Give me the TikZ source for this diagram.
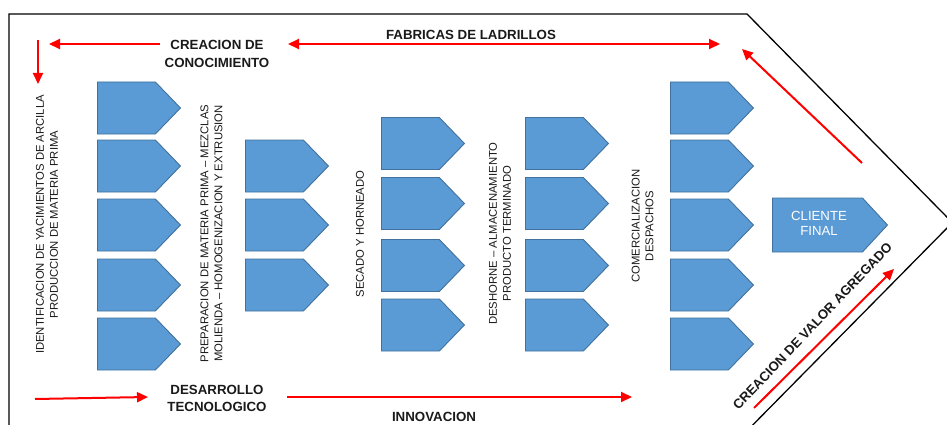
\documentclass[tikz,border=0pt]{standalone}
\usepackage{fontspec}
\setmainfont{Liberation Sans}
\usetikzlibrary{shapes.symbols,arrows.meta}
\definecolor{boxfill}{HTML}{5B9BD5}
\definecolor{boxline}{HTML}{41719C}
\definecolor{arrred}{HTML}{FF0000}
\definecolor{txt}{HTML}{1A1A1A}
\tikzset{
  blk/.style={shape=signal, signal to=east, signal pointer angle=92, fill=boxfill, draw=boxline,
    line width=0.9pt, minimum width=83pt, minimum height=52pt, inner sep=0pt, anchor=west},
  redarr/.style={draw=arrred, line width=2pt, -{Triangle[length=11pt,width=10pt]}},
  redboth/.style={draw=arrred, line width=2pt, {Triangle[length=11pt,width=10pt]}-{Triangle[length=11pt,width=10pt]}},
  lblb/.style={font=\fontsize{13.3}{17.5}\selectfont\bfseries, text=txt, align=center, inner sep=0pt},
  lblv/.style={font=\fontsize{11.3}{13.8}\selectfont, text=txt, align=center, rotate=90, inner sep=0pt},
  framel/.style={draw=black, line width=1.3pt},
}
\begin{document}
\begin{tikzpicture}[x=1pt,y=-1pt]
\useasboundingbox (0,0) rectangle (947,425);
\fill[white] (0,0) rectangle (947,425);
% frame
\draw[framel] (9,445) -- (9,14) -- (747,14) -- (952.4,222.6) -- (733,445);
% columns 1 and 5
\foreach \r/\y in {1/108,2/166,3/225,4/285,5/344} {
  \node[blk] (c1r\r) at (97,\y) {};
  \node[blk] (c5r\r) at (670,\y) {};
}
% column 2
\foreach \r/\y in {1/166,2/225,3/285} {
  \node[blk] (c2r\r) at (245,\y) {};
}
% columns 3 and 4
\foreach \r/\y in {1/143.5,2/203.5,3/265.5,4/325} {
  \node[blk] (c3r\r) at (381,\y) {};
  \node[blk] (c4r\r) at (525,\y) {};
}
% cliente final
\node[blk, minimum width=115pt, minimum height=54pt, signal pointer angle=94.4] (cli) at (772,225) {};
\node[font=\fontsize{13.2}{15.5}\selectfont, text=white, align=center, inner sep=0pt] (clit) at (819,223.5) {CLIENTE\\FINAL};
% vertical labels
\node[lblv] (t1) at (47,224.5) {IDENTIFICACION DE YACIMIENTOS DE ARCILLA\\PRODUCCION DE MATERIA PRIMA};
\node[lblv] (t2) at (211.5,233.5) {PREPARACION DE MATERIA PRIMA -- MEZCLAS\\MOLIENDA -- HOMOGENIZACION Y EXTRUSION};
\node[lblv] (t3) at (360,234) {SECADO Y HORNEADO};
\node[lblv] (t4) at (500,233.5) {DESHORNE -- ALMACENAMIENTO\\PRODUCTO TERMINADO};
\node[lblv] (t5) at (642.5,226) {COMERCIALIZACION\\DESPACHOS};
% bold labels
\node[lblb] (cc) at (217,54) {CREACION DE\\CONOCIMIENTO};
\node[lblb] (fab) at (471,35) {FABRICAS DE LADRILLOS};
\node[lblb] (dt) at (217,398.5) {DESARROLLO\\TECNOLOGICO};
\node[lblb] (inn) at (434,417) {INNOVACION};
\node[lblb, rotate=46.5] (cva) at (812.5,326) {CREACION DE VALOR AGREGADO};
% arrow end points
\coordinate (a1s) at (38,40);   \coordinate (a1e) at (38,84);
\coordinate (a2s) at (160,44);  \coordinate (a2e) at (49,44);
\coordinate (a3s) at (288,44);  \coordinate (a3e) at (720,44);
\coordinate (a4s) at (862,163); \coordinate (a4e) at (742,49);
\coordinate (a5s) at (35,399);  \coordinate (a5e) at (148,397);
\coordinate (a6s) at (287,397); \coordinate (a6e) at (632,397);
\coordinate (a7s) at (754,408); \coordinate (a7e) at (894,269);
\draw[redarr] (a1s) -- (a1e);
\draw[redarr] (a2s) -- (a2e);
\draw[redboth] (a3s) -- (a3e);
\draw[redarr] (a4s) -- (a4e);
\draw[redarr] (a5s) -- (a5e);
\draw[redarr] (a6s) -- (a6e);
\draw[redarr] (a7s) -- (a7e);
\end{tikzpicture}
\end{document}
